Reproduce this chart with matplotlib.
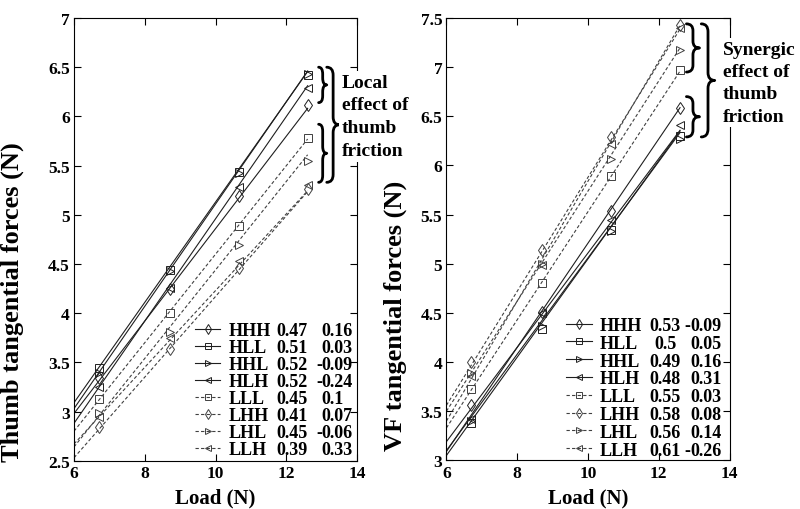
import matplotlib
matplotlib.use("Agg")
import matplotlib.pyplot as plt
import numpy as np
from matplotlib.lines import Line2D
from matplotlib.patches import PathPatch
from matplotlib.path import Path

plt.rcParams["font.family"] = ["Liberation Serif", "DejaVu Serif"]
plt.rcParams["font.weight"] = "bold"
plt.rcParams["axes.labelweight"] = "bold"

# loads at which the forces were measured (N)
loads = [6.7, 8.7, 10.65, 12.6]
conditions = ["HHH", "HLL", "HHL", "HLH", "LLL", "LHH", "LHL", "LLH"]

# thumb tangential forces (N), one row per condition
thumb_hhh = [3.34, 4.25, 5.19, 6.12]
thumb_hll = [3.44, 4.44, 5.43, 6.42]
thumb_hhl = [3.39, 4.43, 5.42, 6.43]
thumb_hlh = [3.25, 4.26, 5.28, 6.29]
thumb_lll = [3.13, 4.00, 4.89, 5.78]
thumb_lhh = [2.84, 3.64, 4.46, 5.26]
thumb_lhl = [2.99, 3.81, 4.69, 5.55]
thumb_llh = [2.94, 3.75, 4.53, 5.30]
thumb_slope = [0.47, 0.51, 0.52, 0.52, 0.45, 0.41, 0.45, 0.39]
thumb_icept = [0.16, 0.03, -0.09, -0.24, 0.1, 0.07, -0.06, 0.33]

# virtual finger tangential forces (N)
vf_hhh = [3.56, 4.51, 5.54, 6.58]
vf_hll = [3.38, 4.34, 5.34, 6.30]
vf_hhl = [3.40, 4.37, 5.33, 6.27]
vf_hlh = [3.42, 4.50, 5.45, 6.41]
vf_lll = [3.73, 4.80, 5.89, 6.97]
vf_lhh = [4.00, 5.14, 6.29, 7.43]
vf_lhl = [3.89, 5.00, 6.07, 7.17]
vf_llh = [3.86, 4.99, 6.22, 7.40]
vf_slope = [0.53, 0.5, 0.49, 0.48, 0.55, 0.58, 0.56, 0.61]
vf_icept = [-0.09, 0.05, 0.16, 0.31, 0.03, 0.08, 0.14, -0.26]

thumb = [thumb_hhh, thumb_hll, thumb_hhl, thumb_hlh,
         thumb_lll, thumb_lhh, thumb_lhl, thumb_llh]
vf = [vf_hhh, vf_hll, vf_hhl, vf_hlh, vf_lll, vf_lhh, vf_lhl, vf_llh]

MARKERS = {"HHH": "d", "HLL": "s", "HHL": ">", "HLH": "<",
           "LLL": "s", "LHH": "d", "LHL": ">", "LLH": "<"}
LINE_COLOR = "0.12"
DASH_COLOR = "0.25"
LEG_SIZE = 13


def style_for(name):
    if name.startswith("H"):
        return dict(color=LINE_COLOR, ls="-", lw=0.8)
    return dict(color=DASH_COLOR, ls=(0, (3.0, 2.0)), lw=0.8)


def draw_brace(ax, x0, x1, y0, y1, r=0.07, lw=2.0):
    """Right-pointing curly brace from y0 to y1, back at x0, tip at x1."""
    xm = (x0 + x1) / 2
    ym = (y0 + y1) / 2
    verts = [(x0, y1), (xm, y1), (xm, y1 - r), (xm, ym + r),
             (xm, ym), (x1, ym), (xm, ym), (xm, ym - r),
             (xm, y0 + r), (xm, y0), (x0, y0)]
    codes = [Path.MOVETO, Path.CURVE3, Path.CURVE3, Path.LINETO,
             Path.CURVE3, Path.CURVE3, Path.CURVE3, Path.CURVE3,
             Path.LINETO, Path.CURVE3, Path.CURVE3]
    ax.add_patch(PathPatch(Path(verts, codes), fill=False, lw=lw,
                           edgecolor="black", clip_on=False,
                           capstyle="round", joinstyle="round"))


def panel(ax, series, slopes, icepts, ylim, ylabel, leg):
    xlim = (6, 14)
    x_fit = np.array([xlim[0], loads[-1]])
    for name, ys, a, b in zip(conditions, series, slopes, icepts):
        st = style_for(name)
        ax.plot(x_fit, a * x_fit + b, **st)
        ax.plot(loads, ys, ls="none", marker=MARKERS[name], ms=6,
                mfc="none", mec=st["color"], mew=0.7)

    ax.set_xlim(*xlim)
    ax.set_ylim(*ylim)
    ax.set_xticks([6, 8, 10, 12, 14])
    ax.set_yticks(np.arange(ylim[0], ylim[1] + 0.01, 0.5))
    ax.yaxis.set_major_formatter(plt.FormatStrFormatter("%g"))
    ax.tick_params(direction="in", top=True, right=True, length=5,
                   width=0.8, labelsize=12.5, pad=3)
    for lbl in ax.get_xticklabels() + ax.get_yticklabels():
        lbl.set_fontweight("bold")
    for s in ax.spines.values():
        s.set_linewidth(0.8)
    ax.set_xlabel("Load (N)", fontsize=15, fontweight="bold", labelpad=5)
    ax.set_ylabel(ylabel, fontsize=19, fontweight="bold")
    ax.yaxis.set_label_coords(*leg["ylabel_at"])

    handles = []
    for name in conditions:
        st = style_for(name)
        handles.append(Line2D([], [], marker=MARKERS[name], ms=5, mfc="none",
                              mec=st["color"], mew=0.7, **st))
    lg = ax.legend(handles, conditions, loc="lower left",
                   bbox_to_anchor=(leg["x"], leg["y"]), frameon=False,
                   borderpad=0, borderaxespad=0, handlelength=1.4,
                   handletextpad=0.45, labelspacing=leg["spacing"],
                   numpoints=1, prop=dict(size=LEG_SIZE, weight="bold"))
    return lg


def number_columns(fig, ax, lg, slopes, icepts, slope_x, icept_x):
    fig.canvas.draw()
    inv = ax.transAxes.inverted()
    for t, a, b in zip(lg.get_texts(), slopes, icepts):
        bb = t.get_window_extent()
        y = inv.transform((0, bb.y0))[1]
        kw = dict(transform=ax.transAxes, va="bottom", fontsize=LEG_SIZE,
                  fontweight="bold")
        ax.text(slope_x, y, f"{a:g}", ha="center", **kw)
        ax.text(icept_x, y, f"{abs(b):g}", ha="left", **kw)
        if b < 0:
            ax.text(icept_x, y, "-", ha="right", **kw)


fig = plt.figure(figsize=(8, 5.1), dpi=100)
ax1 = fig.add_axes([0.0925, 0.0947, 0.354, 0.868])
ax2 = fig.add_axes([0.558, 0.0953, 0.354, 0.8675])

lg1 = panel(ax1, thumb, thumb_slope, thumb_icept, (2.5, 7),
            "Thumb tangential forces (N)",
            dict(x=0.427, y=0.006, spacing=0.0, ylabel_at=(-0.175, 0.36)))
lg2 = panel(ax2, vf, vf_slope, vf_icept, (3, 7.5),
            "VF tangential forces (N)",
            dict(x=0.424, y=0.004, spacing=0.045, ylabel_at=(-0.14, 0.33)))

number_columns(fig, ax1, lg1, thumb_slope, thumb_icept, 0.770, 0.875)
number_columns(fig, ax2, lg2, vf_slope, vf_icept, 0.773, 0.861)

# braces and notes
draw_brace(ax1, 12.91, 13.14, 6.14, 6.50)
draw_brace(ax1, 12.91, 13.14, 5.33, 5.92)
draw_brace(ax1, 13.14, 13.50, 5.33, 6.50, r=0.08)
ax1.text(13.57, 6.0, "Local\neffect of\nthumb\nfriction", fontsize=14,
         fontweight="bold", ha="left", va="center", linespacing=1.45,
         clip_on=False, bbox=dict(facecolor="white", edgecolor="none", pad=2))

draw_brace(ax2, 12.78, 13.15, 6.95, 7.44)
draw_brace(ax2, 12.78, 13.15, 6.29, 6.70)
draw_brace(ax2, 13.20, 13.58, 6.29, 7.44, r=0.08)
ax2.text(13.81, 6.84, "Synergic\neffect of\nthumb\nfriction", fontsize=14,
         fontweight="bold", ha="left", va="center", linespacing=1.4,
         clip_on=False, bbox=dict(facecolor="white", edgecolor="none", pad=2))

fig.savefig("out.png", dpi=100)
